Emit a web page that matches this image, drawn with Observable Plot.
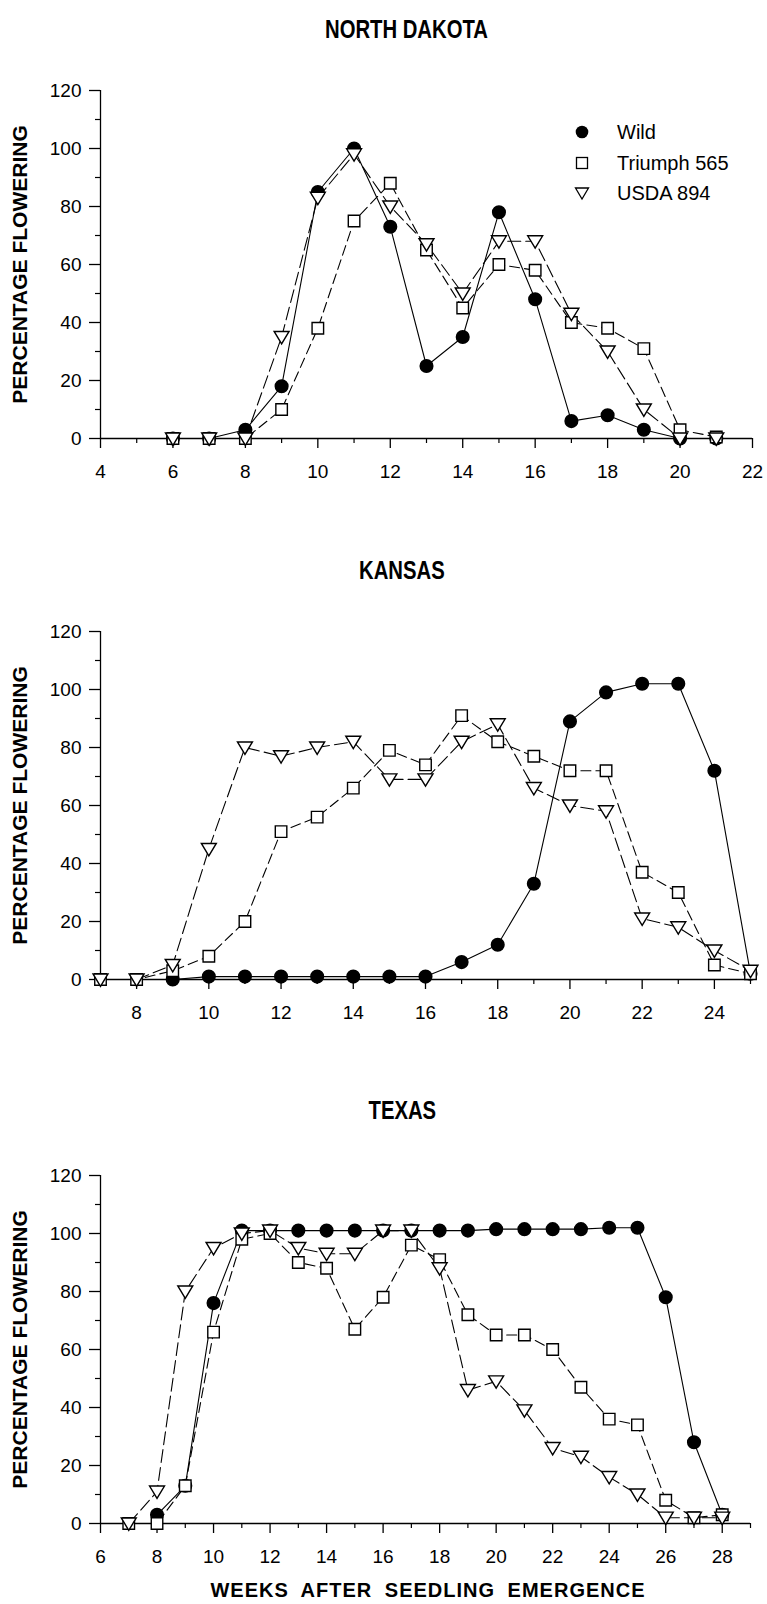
<!DOCTYPE html>
<html><head><meta charset="utf-8">
<script src="https://cdn.jsdelivr.net/npm/d3@7"></script>
<script src="https://cdn.jsdelivr.net/npm/@observablehq/plot@0.6"></script>
<style>
body{margin:0;background:#fff;}
#fig{position:relative;width:767px;height:1604px;background:#fff;font-family:"Liberation Sans",Arial,Helvetica,sans-serif;color:#000;overflow:hidden}
.title{position:absolute;width:400px;text-align:center;font-weight:bold;font-size:26px;line-height:26px}
.title span{display:inline-block;transform:scaleX(0.78)}
.panel{position:absolute;left:0}
.leg{position:absolute;font-size:20px;line-height:20px}
#xtitle{position:absolute;width:600px;text-align:center;font-weight:bold;font-size:20px;line-height:20px;letter-spacing:1px;word-spacing:6px}
</style></head><body><div id="fig"></div>
<script>
// ---------- data ----------
const seriesNames = ["Wild", "Triumph 565", "USDA 894"];
const panelTitles = ["NORTH DAKOTA", "KANSAS", "TEXAS"];
const yLabel = "PERCENTAGE FLOWERING";
const xTitle = "WEEKS AFTER SEEDLING EMERGENCE";

const ndWeeks   = [6,7,8,9,10,11,12,13,14,15,16,17,18,19,20,21];
const ndWild    = [0,0,3,18,85,100,73,25,35,78,48,6,8,3,0,0];
const ndTriumph = [0,0,0,10,38,75,88,65,45,60,58,40,38,31,3,0.5];
const ndUsda    = [0,0,0,35,83,98,80,67,50,68,68,43,30,10,0,0];

const ksWeeks   = [7,8,9,10,11,12,13,14,15,16,17,18,19,20,21,22,23,24,25];
const ksWild    = [null,null,0,1,1,1,1,1,1,1,6,12,33,89,99,102,102,72,2];
const ksTriumph = [0,0,3,8,20,51,56,66,79,74,91,82,77,72,72,37,30,5,2];
const ksUsda    = [0,0,5,45,80,77,80,82,69,69,82,88,66,60,58,21,18,10,3];

const txWeeks   = [7,8,9,10,11,12,13,14,15,16,17,18,19,20,21,22,23,24,25,26,27,28];
const txWild    = [null,3,13,76,101,101,101,101,101,101,101,101,101,101.5,101.5,101.5,101.5,102,102,78,28,3];
const txTriumph = [0,0,13,66,98,100,90,88,67,78,96,91,72,65,65,60,47,36,34,8,2,3];
const txUsda    = [0,11,80,95,100,101,95,93,93,101,101,88,46,49,39,26,23,16,10,2,2,2];

const ndXDomain = [4,22], ndXMajor = [4,6,8,10,12,14,16,18,20,22], ndXMinor = [5,7,9,11,13,15,17,19,21];
const ksXDomain = [7,25], ksXMajor = [8,10,12,14,16,18,20,22,24], ksXMinor = [7,9,11,13,15,17,19,21,23,25];
const txXDomain = [6,29], txXMajor = [6,8,10,12,14,16,18,20,22,24,26,28], txXMinor = [7,9,11,13,15,17,19,21,23,25,27,29];
const yMajor = [0,20,40,60,80,100,120];
const yMinor = [10,30,50,70,90,110];

// ---------- drawing ----------
const fig = document.getElementById("fig");
const triDown = {draw(ctx, size){ const r = Math.sqrt(size/Math.PI); const w = r*1.15;
  ctx.moveTo(-w, -r*0.85); ctx.lineTo(w, -r*0.85); ctx.lineTo(0, r*1.05); ctx.closePath(); }};

function rows(weeks, vals){ return weeks.map((w,i)=>({week:w, pct:vals[i]})); }

function panel(o){
  const wild = rows(o.weeks, o.wild), tri = rows(o.weeks, o.triumph), usda = rows(o.weeks, o.usda);
  const p = Plot.plot({
    width:767, height:438, marginTop:30, marginBottom:60, marginLeft:100, marginRight:767-o.xRight,
    style:{fontFamily:'"Liberation Sans", Arial, sans-serif', fontSize:"19px", background:"white", color:"black"},
    x:{domain:o.xDomain}, y:{domain:[0,120]},
    marks:[
      Plot.ruleX([o.xDomain[0]], {stroke:"black", strokeWidth:1.3}),
      Plot.ruleY([0], {stroke:"black", strokeWidth:1.6}),
      Plot.axisX({ticks:o.xMajor, tickSize:10, tickPadding:16, fontSize:19, label:null, tickFormat:d=>String(d), strokeWidth:1.3}),
      Plot.axisX({ticks:o.xMinor, tickSize:5, tickFormat:()=>"", label:null, strokeWidth:1.2}),
      Plot.axisY({ticks:yMajor, tickSize:11, tickPadding:8, fontSize:19, label:null, tickFormat:d=>String(d), strokeWidth:1.3}),
      Plot.axisY({ticks:yMinor, tickSize:5, tickFormat:()=>"", label:null, strokeWidth:1.2}),
      Plot.text([yLabel], {frameAnchor:"left", textAnchor:"middle", rotate:-90, dx:-80, fontSize:21, fontWeight:"bold", text:d=>d}),
      Plot.line(wild, {x:"week", y:"pct", stroke:"black", strokeWidth:1.1}),
      Plot.line(tri, {x:"week", y:"pct", stroke:"black", strokeWidth:1.1, strokeDasharray:"10,5"}),
      Plot.line(usda, {x:"week", y:"pct", stroke:"black", strokeWidth:1.1, strokeDasharray:"13,5"}),
      Plot.dot(wild, {x:"week", y:"pct", r:6.3, symbol:"circle", fill:"black", stroke:"black"}),
      Plot.dot(tri, {x:"week", y:"pct", r:6.5, symbol:"square", fill:"white", stroke:"black", strokeWidth:1.4}),
      Plot.dot(usda, {x:"week", y:"pct", r:6.5, symbol:triDown, fill:"white", stroke:"black", strokeWidth:1.4})
    ]
  });
  p.classList.add("panel");
  p.style.top = o.top + "px";
  fig.appendChild(p);
  const t = document.createElement("div");
  t.className = "title"; t.style.left = (o.titleX - 200) + "px"; t.style.top = (o.titleY - 13) + "px";
  t.innerHTML = "<span>" + o.title + "</span>";
  fig.appendChild(t);
}

panel({weeks:ndWeeks, wild:ndWild, triumph:ndTriumph, usda:ndUsda, xDomain:ndXDomain, xMajor:ndXMajor, xMinor:ndXMinor, xRight:752, top:60, title:panelTitles[0], titleX:406, titleY:29});
panel({weeks:ksWeeks, wild:ksWild, triumph:ksTriumph, usda:ksUsda, xDomain:ksXDomain, xMajor:ksXMajor, xMinor:ksXMinor, xRight:750, top:601, title:panelTitles[1], titleX:402, titleY:570});
panel({weeks:txWeeks, wild:txWild, triumph:txTriumph, usda:txUsda, xDomain:txXDomain, xMajor:txXMajor, xMinor:txXMinor, xRight:750, top:1145, title:panelTitles[2], titleX:402, titleY:1110});

// legend (North Dakota panel)
const legSyms = [
  '<circle cx="8" cy="8" r="6.3" fill="black"/>',
  '<rect x="2.5" y="2.5" width="11" height="11" fill="white" stroke="black" stroke-width="1.3"/>',
  '<path d="M1.5,3 L14.5,3 L8,14 Z" fill="white" stroke="black" stroke-width="1.3"/>'
];
seriesNames.forEach((name,i)=>{
  const cy = 132 + i*30.5;
  const s = document.createElement("div");
  s.className = "leg"; s.style.left = "574px"; s.style.top = (cy-8)+"px";
  s.innerHTML = '<svg width="16" height="16" style="display:block">' + legSyms[i] + '</svg>';
  fig.appendChild(s);
  const t = document.createElement("div");
  t.className = "leg"; t.style.left = "617px"; t.style.top = (cy-10)+"px";
  t.textContent = name;
  fig.appendChild(t);
});

const xt = document.createElement("div");
xt.id = "xtitle"; xt.style.left = (428-300)+"px"; xt.style.top = (1590-10)+"px";
xt.textContent = xTitle;
fig.appendChild(xt);
</script></body></html>
